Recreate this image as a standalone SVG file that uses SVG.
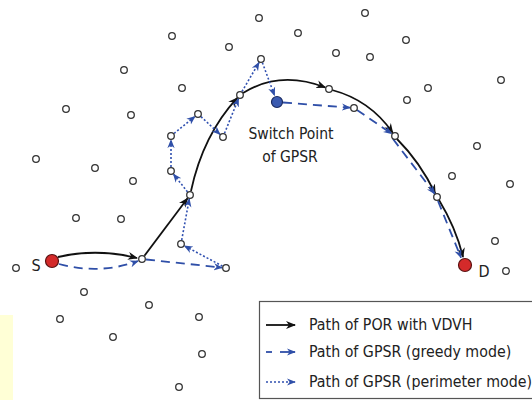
<svg xmlns="http://www.w3.org/2000/svg" width="532" height="400" viewBox="0 0 532 400">
<style>
.n{fill:#fff;stroke:#333;stroke-width:1.3}
.por{fill:none;stroke:#111;stroke-width:1.8;marker-end:url(#ak)}
.gr{fill:none;stroke:#2f4fa8;stroke-width:1.8;stroke-dasharray:9 6;marker-end:url(#ab)}
.pe{fill:none;stroke:#3050b0;stroke-width:1.6;stroke-dasharray:2 2;marker-end:url(#ab)}
.t{font-family:"DejaVu Sans Condensed","DejaVu Sans",sans-serif;fill:#222}
</style>
<defs>
<marker id="ak" viewBox="0 0 10 10" markerUnits="userSpaceOnUse" markerWidth="10" markerHeight="10" refX="9" refY="5" orient="auto"><path d="M0,1 L10,5 L0,9 L3,5 z" fill="#111"/></marker>
<marker id="ab" viewBox="0 0 10 10" markerUnits="userSpaceOnUse" markerWidth="9" markerHeight="9" refX="9" refY="5" orient="auto"><path d="M0,1 L10,5 L0,9 L3,5 z" fill="#2f4fa8"/></marker>
</defs>
<rect x="0" y="315" width="13" height="85" fill="#ffffd6"/>
<g id="connectors">
<path class="por" d="M58,257 Q97,248 137,258"/>
<path class="por" d="M144.4,255.8 L187.6,198.2"/>
<path class="por" d="M191,191 Q203,135 237.3,97.9"/>
<path class="por" d="M243,93 Q280,70 325.3,87.5"/>
<path class="por" d="M332,90 Q370,100 392.7,132.7"/>
<path class="por" d="M397,139 Q420,162 435.2,193.4"/>
<path class="por" d="M439,200 Q456,228 463,257"/>
<path class="gr" d="M59,264 Q100,275 138,261"/>
<path class="gr" d="M146,259.5 L222,267.6"/>
<path class="gr" d="M283,102.5 L350,107.7"/>
<path class="gr" d="M357,110 L391.7,133.7"/>
<path class="gr" d="M393,139 L434.7,193.7"/>
<path class="gr" d="M438,201 L461,257.6"/>
<path class="pe" d="M222.5,266.1 L184.5,245.9"/>
<path class="pe" d="M181.7,240 L189.3,198.9"/>
<path class="pe" d="M187.5,191.9 L173.5,174.1"/>
<path class="pe" d="M171,167 L171,140"/>
<path class="pe" d="M174.1,133.5 L194.9,116.5"/>
<path class="pe" d="M201,116.7 L220,134.3"/>
<path class="pe" d="M224.5,133.3 L238.5,98.7"/>
<path class="pe" d="M242,91.5 L259,62.5"/>
<path class="pe" d="M262.4,62.7 L274.5,95.4"/>
</g>
<g id="nodes">
<circle class="n" cx="172" cy="36" r="3.3"/>
<circle class="n" cx="259" cy="18" r="3.3"/>
<circle class="n" cx="229" cy="47" r="3.3"/>
<circle class="n" cx="261" cy="59" r="3.3"/>
<circle class="n" cx="124" cy="70" r="3.3"/>
<circle class="n" cx="182" cy="88" r="3.3"/>
<circle class="n" cx="66" cy="109" r="3.3"/>
<circle class="n" cx="131" cy="115" r="3.3"/>
<circle class="n" cx="198" cy="114" r="3.3"/>
<circle class="n" cx="240" cy="95" r="3.3"/>
<circle class="n" cx="223" cy="137" r="3.3"/>
<circle class="n" cx="171" cy="136" r="3.3"/>
<circle class="n" cx="36" cy="159" r="3.3"/>
<circle class="n" cx="95" cy="168" r="3.3"/>
<circle class="n" cx="133" cy="181" r="3.3"/>
<circle class="n" cx="171" cy="171" r="3.3"/>
<circle class="n" cx="190" cy="195" r="3.3"/>
<circle class="n" cx="365" cy="13" r="3.3"/>
<circle class="n" cx="298" cy="33" r="3.3"/>
<circle class="n" cx="406" cy="40" r="3.3"/>
<circle class="n" cx="336" cy="53" r="3.3"/>
<circle class="n" cx="370" cy="57" r="3.3"/>
<circle class="n" cx="501" cy="80" r="3.3"/>
<circle class="n" cx="428" cy="88" r="3.3"/>
<circle class="n" cx="407" cy="100" r="3.3"/>
<circle class="n" cx="329" cy="89" r="3.3"/>
<circle class="n" cx="354" cy="108" r="3.3"/>
<circle class="n" cx="395" cy="136" r="3.3"/>
<circle class="n" cx="477" cy="146" r="3.3"/>
<circle class="n" cx="452" cy="176" r="3.3"/>
<circle class="n" cx="510" cy="184" r="3.3"/>
<circle class="n" cx="437" cy="197" r="3.3"/>
<circle class="n" cx="76" cy="218" r="3.3"/>
<circle class="n" cx="121" cy="219" r="3.3"/>
<circle class="n" cx="16" cy="268" r="3.3"/>
<circle class="n" cx="142" cy="259" r="3.3"/>
<circle class="n" cx="181" cy="244" r="3.3"/>
<circle class="n" cx="226" cy="268" r="3.3"/>
<circle class="n" cx="84" cy="292" r="3.3"/>
<circle class="n" cx="149" cy="305" r="3.3"/>
<circle class="n" cx="199" cy="317" r="3.3"/>
<circle class="n" cx="60" cy="319" r="3.3"/>
<circle class="n" cx="113" cy="337" r="3.3"/>
<circle class="n" cx="202" cy="354" r="3.3"/>
<circle class="n" cx="179" cy="387" r="3.3"/>
<circle class="n" cx="495" cy="241" r="3.3"/>
<circle class="n" cx="506" cy="271" r="3.3"/>
</g>
<g id="S"><circle cx="52" cy="261" r="6.5" fill="#d42a2a" stroke="#5a1212" stroke-width="1.2"/><text class="t" x="36" y="271" font-size="16" text-anchor="middle">S</text></g>
<g id="D"><circle cx="465" cy="265" r="6.5" fill="#d42a2a" stroke="#5a1212" stroke-width="1.2"/><text class="t" x="484" y="277" font-size="16" text-anchor="middle">D</text></g>
<g id="switch"><circle cx="277" cy="102" r="5.5" fill="#3a5ab0" stroke="#1a2a60" stroke-width="1.2"/>
<text class="t" x="291" y="139" font-size="15.5" text-anchor="middle">Switch Point</text>
<text class="t" x="290" y="162" font-size="15.5" text-anchor="middle">of GPSR</text></g>
<g id="legend">
<rect x="259.5" y="301.5" width="280" height="97" fill="#fff" stroke="#555" stroke-width="1.2"/>
<path class="por" d="M266,325 L295,325"/>
<path d="M266,352 L272,352" stroke="#2f4fa8" stroke-width="1.8"/>
<path d="M280,352 L295,352" stroke="#2f4fa8" stroke-width="1.8" marker-end="url(#ab)"/>
<path class="pe" d="M266,382 L295,382"/>
<text class="t" x="309" y="330" font-size="15.8">Path of POR with VDVH</text>
<text class="t" x="309" y="357" font-size="15.8">Path of GPSR (greedy mode)</text>
<text class="t" x="309" y="387" font-size="15.8">Path of GPSR (perimeter mode)</text>
</g>
</svg>
